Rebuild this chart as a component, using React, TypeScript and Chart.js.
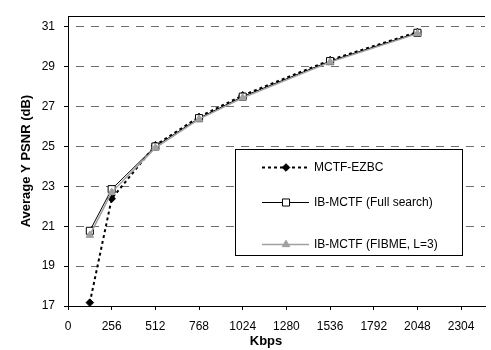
import React, { useEffect, useRef } from "react";
import { Chart, registerables } from "chart.js";

Chart.register(...registerables);

const KBPS = [128, 256, 512, 768, 1024, 1536, 2048];
const MCTF_EZBC = [17.17, 22.38, 25.06, 26.48, 27.56, 29.33, 30.74];
const IB_FULL = [20.77, 22.86, 25.0, 26.42, 27.5, 29.28, 30.7];
const IB_FIBME = [20.55, 22.7, 24.93, 26.37, 27.44, 29.23, 30.66];
const X_TICKS = [0, 256, 512, 768, 1024, 1280, 1536, 1792, 2048, 2304];
const Y_TICKS = [17, 19, 21, 23, 25, 27, 29, 31];
const LABELS = ["MCTF-EZBC", "IB-MCTF (Full search)", "IB-MCTF (FIBME, L=3)"];

const FONT = "'Liberation Sans', Arial, Helvetica, sans-serif";
const GRAY = "#a0a0a0";

function drawMarker(ctx: CanvasRenderingContext2D, style: string, x: number, y: number, r: number, fill: string, stroke: string) {
  ctx.save();
  ctx.setLineDash([]);
  ctx.lineWidth = 1;
  ctx.fillStyle = fill;
  ctx.strokeStyle = stroke;
  ctx.beginPath();
  if (style === "rectRot") {
    ctx.moveTo(x, y - r);
    ctx.lineTo(x + r, y);
    ctx.lineTo(x, y + r);
    ctx.lineTo(x - r, y);
    ctx.closePath();
  } else if (style === "rect") {
    const s = r * Math.SQRT1_2;
    ctx.rect(x - s, y - s, 2 * s, 2 * s);
  } else {
    ctx.moveTo(x, y - r);
    ctx.lineTo(x + r * 0.866, y + r * 0.5);
    ctx.lineTo(x - r * 0.866, y + r * 0.5);
    ctx.closePath();
  }
  ctx.fill();
  ctx.stroke();
  ctx.restore();
}

const framePlugin = {
  id: "frame",
  beforeDatasetsDraw(chart: any) {
    const { ctx, chartArea } = chart;
    ctx.save();
    ctx.strokeStyle = "#000";
    ctx.lineWidth = 1;
    ctx.beginPath();
    ctx.moveTo(chartArea.left, Math.round(chartArea.top) + 0.5);
    ctx.lineTo(chartArea.right, Math.round(chartArea.top) + 0.5);
    ctx.stroke();
    ctx.restore();
  },
  afterDraw(chart: any) {
    const { ctx } = chart;
    ctx.save();
    ctx.fillStyle = "#000";
    ctx.font = `bold 13px ${FONT}`;
    ctx.textAlign = "center";
    ctx.textBaseline = "middle";
    ctx.fillText("Kbps", 266, 341);
    ctx.restore();
  },
};

const legendPlugin = {
  id: "boxLegend",
  afterDatasetsDraw(chart: any) {
    const { ctx } = chart;
    const rows = [167, 202, 244];
    ctx.save();
    ctx.fillStyle = "#fff";
    ctx.strokeStyle = "#000";
    ctx.lineWidth = 1;
    ctx.fillRect(235.5, 149.5, 227, 106);
    ctx.strokeRect(235.5, 149.5, 227, 106);
    chart.data.datasets.forEach((ds: any, i: number) => {
      const y = rows[i];
      ctx.save();
      ctx.strokeStyle = ds.borderColor;
      ctx.lineWidth = ds.borderWidth;
      ctx.setLineDash(ds.borderDash || []);
      ctx.beginPath();
      ctx.moveTo(262, y + 0.5);
      ctx.lineTo(309, y + 0.5);
      ctx.stroke();
      ctx.restore();
      drawMarker(ctx, ds.pointStyle, 286, y + 0.5, ds.pointRadius, ds.pointBackgroundColor, ds.pointBorderColor);
      ctx.fillStyle = "#000";
      ctx.font = `12px ${FONT}`;
      ctx.textAlign = "left";
      ctx.textBaseline = "middle";
      ctx.fillText(ds.label, 314, y + 1);
    });
    ctx.restore();
  },
};

export default function App() {
  const ref = useRef<HTMLCanvasElement>(null);
  useEffect(() => {
    const pts = (ys: number[]) => KBPS.map((x, i) => ({ x, y: ys[i] }));
    const chart = new Chart(ref.current as HTMLCanvasElement, {
      type: "scatter",
      data: {
        datasets: [
          {
            label: LABELS[0],
            data: pts(MCTF_EZBC),
            showLine: true,
            borderColor: "#000",
            borderWidth: 2,
            borderDash: [3, 3],
            pointStyle: "rectRot",
            pointRadius: 3.8,
            pointBackgroundColor: "#000",
            pointBorderColor: "#000",
            pointBorderWidth: 1,
            order: 2,
          },
          {
            label: LABELS[1],
            data: pts(IB_FULL),
            showLine: true,
            borderColor: "#000",
            borderWidth: 1,
            pointStyle: "rect",
            pointRadius: 5,
            pointBackgroundColor: "#fff",
            pointBorderColor: "#000",
            pointBorderWidth: 1,
            order: 1,
          },
          {
            label: LABELS[2],
            data: pts(IB_FIBME),
            showLine: true,
            borderColor: GRAY,
            borderWidth: 1.5,
            pointStyle: "triangle",
            pointRadius: 4.3,
            pointBackgroundColor: GRAY,
            pointBorderColor: GRAY,
            pointBorderWidth: 1,
            order: 0,
          },
        ] as any,
      },
      options: {
        animation: false,
        responsive: false,
        devicePixelRatio: 1,
        layout: { padding: { top: 6, right: 0, left: 0, bottom: 0 } },
        plugins: { legend: { display: false }, tooltip: { enabled: false } },
        scales: {
          x: {
            type: "linear",
            min: 0,
            max: 2444,
            afterBuildTicks: (s: any) => {
              s.ticks = X_TICKS.map((v) => ({ value: v }));
            },
            afterFit: (s: any) => {
              s.height = 44;
            },
            grid: {
              drawOnChartArea: false,
              drawTicks: true,
              tickLength: 4,
              tickColor: "#000",
            },
            border: { display: true, color: "#000", width: 1 },
            ticks: {
              color: "#000",
              font: { family: FONT, size: 12 },
              padding: 9,
              maxRotation: 0,
              autoSkip: false,
              callback: (v: any) => String(v),
            },
            title: { display: false },
          },
          y: {
            type: "linear",
            min: 17,
            max: 31.533,
            afterBuildTicks: (s: any) => {
              s.ticks = Y_TICKS.map((v) => ({ value: v }));
            },
            afterFit: (s: any) => {
              s.width = 68;
            },
            grid: {
              color: (c: any) => (c.tick && c.tick.value === 17 ? "rgba(0,0,0,0)" : "#6e6e6e"),
              lineWidth: 1,
              drawTicks: true,
              tickLength: 4,
              tickColor: "#000",
              tickBorderDash: [],
            } as any,
            border: { display: true, color: "#000", width: 1, dash: [8, 7], dashOffset: 8 },
            ticks: {
              color: "#000",
              font: { family: FONT, size: 12 },
              padding: 9,
              autoSkip: false,
              callback: (v: any) => String(v),
            },
            title: {
              display: true,
              text: "Average Y PSNR (dB)",
              color: "#000",
              font: { family: FONT, size: 13, weight: "bold" },
              padding: { top: 19, bottom: 0 },
            },
          },
        },
      },
      plugins: [framePlugin, legendPlugin],
    });
    return () => chart.destroy();
  }, []);
  return (
    <div style={{ position: "absolute", left: 0, top: 0, width: 491, height: 350, background: "#fff" }}>
      <canvas ref={ref} width={491} height={350} style={{ display: "block" }} />
    </div>
  );
}
